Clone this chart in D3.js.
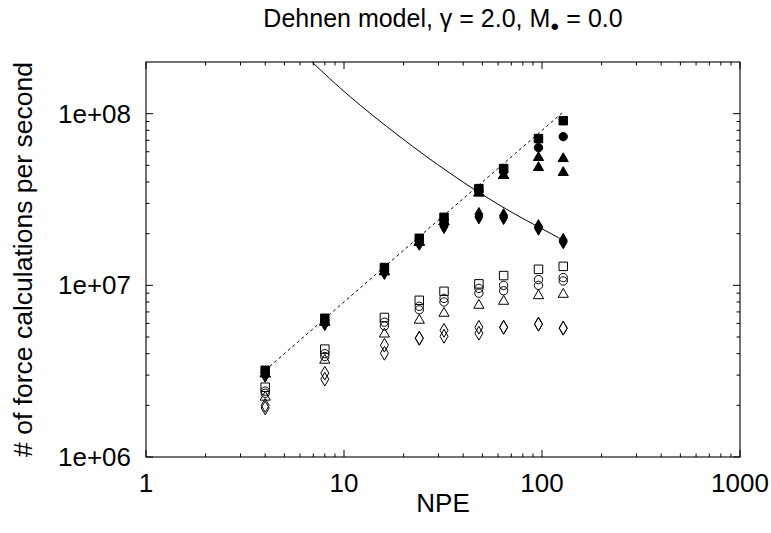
<!DOCTYPE html>
<html><head><meta charset="utf-8">
<script src="https://cdn.jsdelivr.net/npm/d3@7"></script>
<style>
body{margin:0;background:#fff;}
svg{display:block;font-family:"Liberation Sans",Arial,Helvetica,sans-serif;}
</style></head>
<body><svg id="c" width="771" height="533"></svg>
<script>
const npe = [4, 8, 16, 24, 32, 48, 64, 96, 128];
// filled markers
const fSquare   = [3.2e6, 6.43e6, 1.27e7, 1.88e7, 2.49e7, 3.66e7, 4.79e7, 7.16e7, 9.1e7];
const fCircle   = [3.12e6, 6.2e6, 1.23e7, 1.82e7, 2.42e7, 3.55e7, 4.6e7, 6.34e7, 7.35e7];
const fTriA     = [3.05e6, 6.1e6, 1.2e7, 1.78e7, 2.35e7, 3.45e7, 4.36e7, 5.55e7, 5.47e7];
const fTriB     = [3.05e6, 6.1e6, 1.2e7, 1.78e7, 2.35e7, 3.45e7, 4.36e7, 4.85e7, 4.54e7];
const fDiamond  = [3.0e6, 6.0e6, 1.19e7, 1.76e7, 2.23e7, 2.59e7, 2.55e7, 2.2e7, 1.83e7];
const fDiamondB = [3.0e6, 6.0e6, 1.19e7, 1.76e7, 2.2e7, 2.5e7, 2.48e7, 2.15e7, 1.79e7];
// open markers
const oSquare   = [2.55e6, 4.25e6, 6.5e6, 8.18e6, 9.23e6, 1.02e7, 1.14e7, 1.24e7, 1.29e7];
const oCircle   = [2.42e6, 4.0e6, 6.1e6, 7.55e6, 8.4e6, 9.6e6, 1.0e7, 1.08e7, 1.11e7];
const oCircleB  = [2.35e6, 3.85e6, 5.8e6, 7.2e6, 8.0e6, 9.0e6, 9.3e6, 1.0e7, 1.06e7];
const oTriangle = [2.23e6, 3.66e6, 5.2e6, 6.26e6, 6.87e6, 7.65e6, 8.07e6, 8.7e6, 8.86e6];
const oDiamond  = [2.0e6, 3.08e6, 4.48e6, 4.92e6, 5.47e6, 5.7e6, 5.7e6, 5.94e6, 5.63e6];
const oDiamondB = [1.93e6, 2.84e6, 4.02e6, 4.92e6, 5.05e6, 5.26e6, 5.7e6, 5.94e6, 5.63e6];
// lines
const idealX = [4, 128];
const idealY = [3.2e6, 1.024e8];
const curveX = [6.9, 10.7, 19.2, 34.3, 61.4, 95.3, 128];
const curveY = [2.0e8, 1.26e8, 7.33e7, 4.5e7, 2.92e7, 2.2e7, 1.83e7];

const xTicks = [1, 10, 100, 1000];
const yTicks = [1e6, 1e7, 1e8];
const xTickLabels = ["1", "10", "100", "1000"];
const yTickLabels = ["1e+06", "1e+07", "1e+08"];

const L = 146, R = 740, T = 62, B = 457;
const svg = d3.select("#c");
const x = d3.scaleLog().domain([1, 1000]).range([L, R]);
const y = d3.scaleLog().domain([1e6, 2e8]).range([B, T]);

// minor ticks
const xMinor = [];
for (let d = 1; d < 1000; d *= 10) for (let k = 2; k <= 9; k++) xMinor.push(d * k);
const yMinor = [];
for (let d = 1e6; d < 2e8; d *= 10) for (let k = 2; k <= 9; k++) if (d * k < 2e8) yMinor.push(d * k);

const g = svg.append("g");
const tick = (x1, y1, x2, y2) => g.append("line").attr("x1", x1).attr("y1", y1).attr("x2", x2).attr("y2", y2).attr("stroke", "#000").attr("stroke-width", 1);
xTicks.forEach(v => { tick(x(v), B, x(v), B - 7); tick(x(v), T, x(v), T + 7); });
xMinor.forEach(v => { tick(x(v), B, x(v), B - 3.5); tick(x(v), T, x(v), T + 3.5); });
yTicks.forEach(v => { tick(L, y(v), L + 7, y(v)); tick(R, y(v), R - 7, y(v)); });
yMinor.forEach(v => { tick(L, y(v), L + 3.5, y(v)); tick(R, y(v), R - 3.5, y(v)); });

g.append("rect").attr("x", L).attr("y", T).attr("width", R - L).attr("height", B - T)
  .attr("fill", "none").attr("stroke", "#000").attr("stroke-width", 1.1);

xTicks.forEach((v, i) => g.append("text").attr("x", x(v)).attr("y", B + 35).attr("text-anchor", "middle")
  .attr("font-size", 26).text(xTickLabels[i]));
yTicks.forEach((v, i) => g.append("text").attr("x", L - 15).attr("y", y(v) + 9).attr("text-anchor", "end")
  .attr("font-size", 26).text(yTickLabels[i]));

svg.append("text").attr("x", (L + R) / 2).attr("y", 512).attr("text-anchor", "middle").attr("font-size", 26).text("NPE");
svg.append("text").attr("transform", `translate(32,${(T + B) / 2}) rotate(-90)`).attr("text-anchor", "middle")
  .attr("font-size", 26.5).text("# of force calculations per second");
const title = svg.append("text").attr("x", (L + R) / 2).attr("y", 27).attr("text-anchor", "middle").attr("font-size", 25);
title.append("tspan").text("Dehnen model, γ = 2.0, M");
title.append("tspan").attr("font-size", 15).attr("dy", 4).text("●");
title.append("tspan").attr("dy", -4).text(" = 0.0");

svg.append("defs").append("clipPath").attr("id", "clip").append("rect").attr("x", L).attr("y", T).attr("width", R - L).attr("height", B - T);
const plot = svg.append("g").attr("clip-path", "url(#clip)");

plot.append("path").datum(idealX.map((v, i) => [v, idealY[i]]))
  .attr("d", d3.line().x(d => x(d[0])).y(d => y(d[1])))
  .attr("fill", "none").attr("stroke", "#000").attr("stroke-width", 1).attr("stroke-dasharray", "3,3");
plot.append("path").datum(curveX.map((v, i) => [v, curveY[i]]))
  .attr("d", d3.line().curve(d3.curveNatural).x(d => x(d[0])).y(d => y(d[1])))
  .attr("fill", "none").attr("stroke", "#000").attr("stroke-width", 1);

const series = [
  [oSquare, d3.symbolSquare, false, 72], [oCircle, d3.symbolCircle, false, 55], [oCircleB, d3.symbolCircle, false, 55],
  [oTriangle, d3.symbolTriangle, false, 45], [oDiamond, d3.symbolDiamond, false, 55], [oDiamondB, d3.symbolDiamond, false, 55],
  [fSquare, d3.symbolSquare, true, 72], [fCircle, d3.symbolCircle, true, 55], [fTriA, d3.symbolTriangle, true, 45],
  [fTriB, d3.symbolTriangle, true, 45], [fDiamond, d3.symbolDiamond, true, 55], [fDiamondB, d3.symbolDiamond, true, 55]
];
series.forEach(([vals, sym, filled, size]) => {
  plot.append("g").selectAll("path").data(vals).join("path")
    .attr("transform", (d, i) => `translate(${x(npe[i])},${y(d)})`)
    .attr("d", d3.symbol().type(sym).size(size))
    .attr("fill", filled ? "#000" : "none").attr("stroke", "#000").attr("stroke-width", 1);
});
</script></body></html>
